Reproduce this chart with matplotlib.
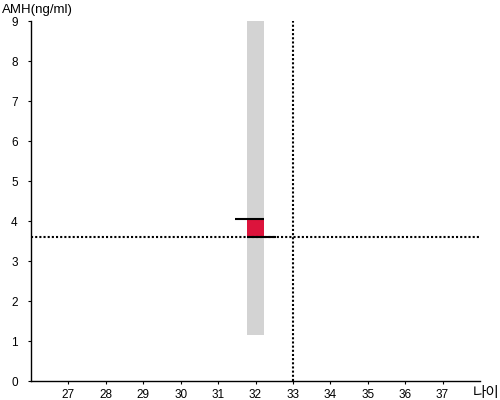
import matplotlib
matplotlib.use('Agg')
import matplotlib.pyplot as plt
import matplotlib.patches as patches

plt.rcParams['font.family'] = ['Liberation Sans', 'Noto Sans CJK KR', 'DejaVu Sans']

# 데이터
x_ticks = [27, 28, 29, 30, 31, 32, 33, 34, 35, 36, 37]
y_ticks = [0, 1, 2, 3, 4, 5, 6, 7, 8, 9]
age = 32
age_ref = 33
band_low, band_high = 1.15, 9.0
amh_value = 4.05
amh_ref = 3.6
band_width = 0.44
tick_len = 0.32

fig = plt.figure(figsize=(5, 4), dpi=100)
ax = fig.add_axes([0.062, 0.0475, 0.898, 0.9])

ax.set_xlim(26, 38)
ax.set_ylim(0, 9)

# 회색 범위 막대
ax.add_patch(patches.Rectangle((age - band_width / 2, band_low), band_width,
                               band_high - band_low, color='#d3d3d3', lw=0, zorder=1))
# 빨간 막대
ax.add_patch(patches.Rectangle((age - band_width / 2, amh_ref), band_width,
                               amh_value - amh_ref, color='#dc143c', lw=0, zorder=2))
# 검은 선
ax.plot([age - band_width / 2 - tick_len, age + band_width / 2], [amh_value, amh_value],
        color='black', lw=1.5, solid_capstyle='butt', zorder=3)
ax.plot([age - band_width / 2, age + band_width / 2 + tick_len], [amh_ref, amh_ref],
        color='black', lw=1.5, solid_capstyle='butt', zorder=3)

# 점선
ax.axhline(amh_ref, color='black', lw=1.5, linestyle=(0, (1, 1)), zorder=4)
ax.axvline(age_ref, color='black', lw=1.5, linestyle=(0, (1, 1)), zorder=4)

ax.set_xticks(x_ticks)
ax.set_yticks(y_ticks)
ax.tick_params(axis='both', labelsize=8.5, length=2.5, width=0.8, colors='black')
ax.tick_params(axis='y', pad=7)
ax.spines['top'].set_visible(False)
ax.spines['right'].set_visible(False)
ax.spines['left'].set_linewidth(1)
ax.spines['bottom'].set_linewidth(1)

fig.text(0.004, 0.975, 'AMH(ng/ml)', fontsize=9.5, ha='left', va='center')
fig.text(0.998, 0.017, '나이', fontsize=10.5, ha='right', va='center',
         family=['Noto Sans CJK KR', 'DejaVu Sans'])

fig.savefig('out.png', dpi=100)
